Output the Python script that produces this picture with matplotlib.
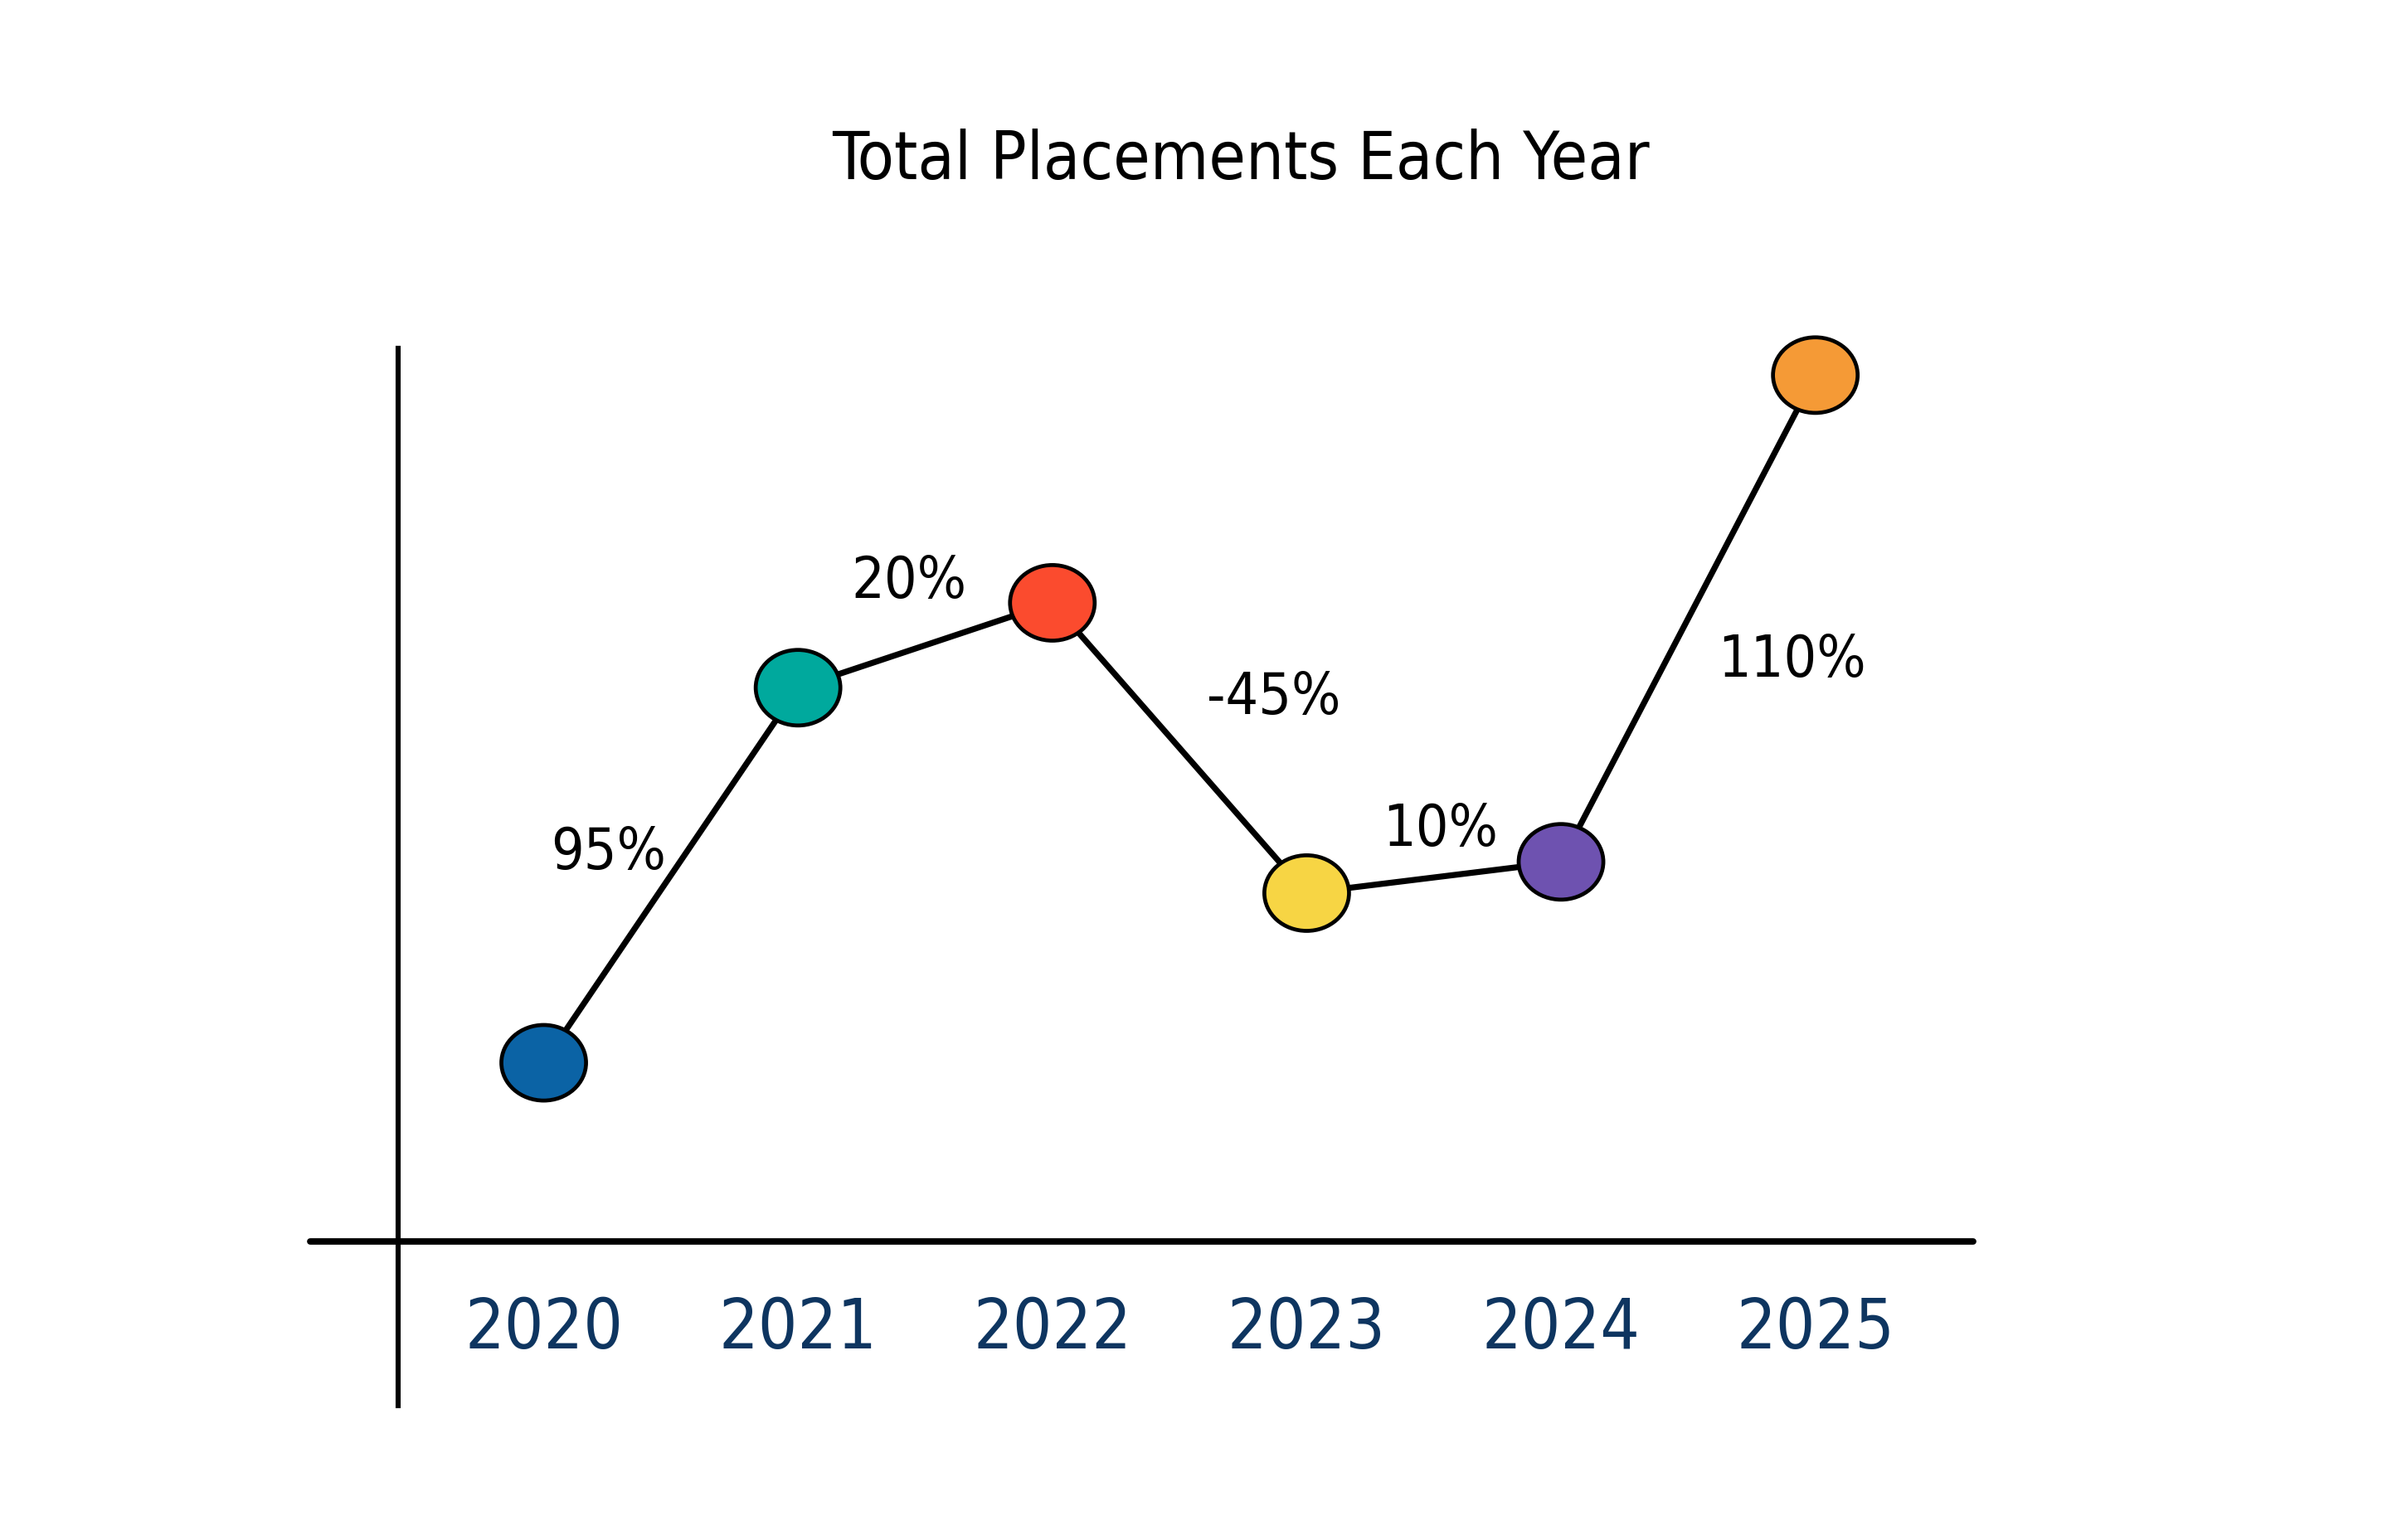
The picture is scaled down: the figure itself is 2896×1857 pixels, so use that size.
#!/usr/bin/env python3

import matplotlib
matplotlib.use('Agg')
import matplotlib.pyplot as plt
from matplotlib.path import Path
from matplotlib.transforms import Affine2D

years = ['2020', '2021', '2022', '2023', '2024', '2025']
placements = [20, 62, 71.5, 39, 42.5, 97]
growth = ['95%', '20%', '-45%', '10%', '110%']
colors = ['#0b63a5', '#00a99d', '#fb4b2e', '#f7d544', '#6e52b0', '#f59a36']

# label offsets (points) from each segment midpoint
offsets = [(-27, 10), (-7, 28), (41, 22), (3, 21), (45, -18)]

plt.rcParams['font.family'] = ['DejaVu Sans Condensed', 'Liberation Sans Narrow', 'DejaVu Sans']
plt.rcParams['font.stretch'] = 'condensed'

fig = plt.figure(figsize=(14.48, 9.29), dpi=200)
ax = fig.add_axes([0.1658, 0.1938, 0.6556, 0.5796])

x = list(range(len(years)))
ax.plot(x, placements, color='black', lw=2.6, zorder=2)

ellipse = Path.unit_circle().transformed(Affine2D().scale(1.12, 1.0))
ax.scatter(x, placements, s=1350, marker=ellipse, c=colors,
           edgecolors='black', linewidths=1.7, zorder=3, clip_on=False)

for i in range(len(growth)):
    mx = (x[i] + x[i+1]) / 2
    my = (placements[i] + placements[i+1]) / 2
    ax.annotate(growth[i], (mx, my), xytext=offsets[i], textcoords='offset points',
                ha='center', va='center', fontsize=25, color='black')

ax.set_xlim(-0.572, 5.62)
ax.set_ylim(0, 100)

for s in ax.spines.values():
    s.set_visible(False)
ax.plot([-0.056, 1.0], [0, 0], transform=ax.transAxes, color='black',
        lw=2.8, clip_on=False, solid_capstyle='round')
ax.plot([0, 0], [-0.184, 1.0], transform=ax.transAxes, color='black',
        lw=2.2, clip_on=False)

ax.set_xticks(x)
ax.set_xticklabels(years, fontsize=30, color='#0e3560')
ax.tick_params(axis='x', length=0, pad=23)
ax.set_yticks([])

fig.text(0.5166, 0.8956, 'Total Placements Each Year', ha='center', va='center',
         fontsize=29, color='black')

plt.savefig('out.png', dpi=200)
